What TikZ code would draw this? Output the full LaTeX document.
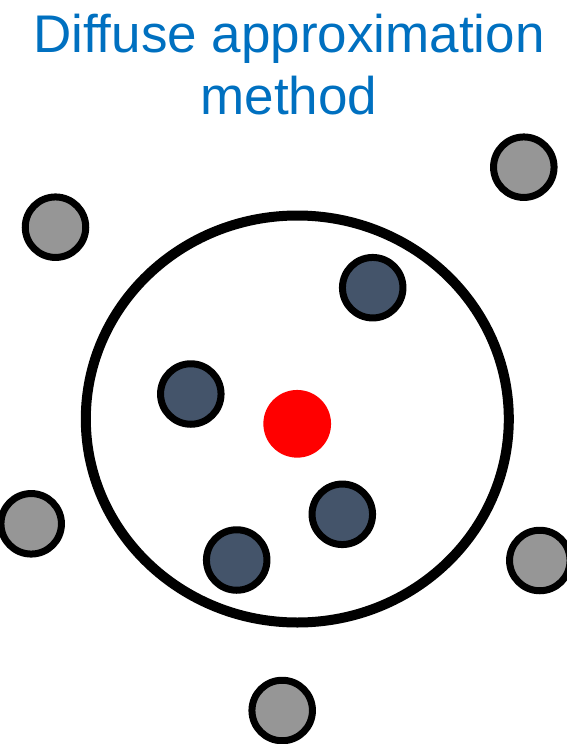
\documentclass[tikz,border=0pt]{standalone}
\usepackage{fontspec}
\setmainfont{Liberation Sans}
\usepackage{xcolor}
\usepackage{tikz}
\usetikzlibrary{shapes.geometric}
\definecolor{DATitle}{HTML}{0070C0}
\definecolor{DAInner}{HTML}{44546A}
\definecolor{DAOuter}{HTML}{969696}
\definecolor{DARed}{HTML}{FF0000}

\begin{document}
\begin{tikzpicture}[x=1pt,y=-1pt,
  inpt/.style={circle,draw=black,line width=7pt,fill=DAInner,minimum size=60.5pt,inner sep=0pt},
  outpt/.style={circle,draw=black,line width=7pt,fill=DAOuter,minimum size=60.5pt,inner sep=0pt}]
\path[use as bounding box] (0,0) rectangle (566,744);
\node[anchor=north,align=center,text=DATitle,font=\fontsize{53}{62}\selectfont,inner sep=0pt] (title) at (289,14) {Diffuse approximation\\method};
\node[ellipse,draw=black,line width=10pt,minimum width=423pt,minimum height=407pt,inner sep=0pt] (window) at (297.3,419) {};
\node[circle,fill=DARed,minimum size=67.7pt,inner sep=0pt] (target) at (297.2,423.8) {};
\node[inpt] (in1) at (372.7,287.7) {};
\node[inpt] (in2) at (190.8,394.0) {};
\node[inpt] (in3) at (342.3,514.3) {};
\node[inpt] (in4) at (236.7,560.0) {};
\node[outpt] (out1) at (523.8,167.2) {};
\node[outpt] (out2) at (55.5,227.2) {};
\node[outpt] (out3) at (31.2,523.8) {};
\node[outpt] (out4) at (539.8,560.5) {};
\node[outpt] (out5) at (282.2,710.5) {};
\end{tikzpicture}
\end{document}
